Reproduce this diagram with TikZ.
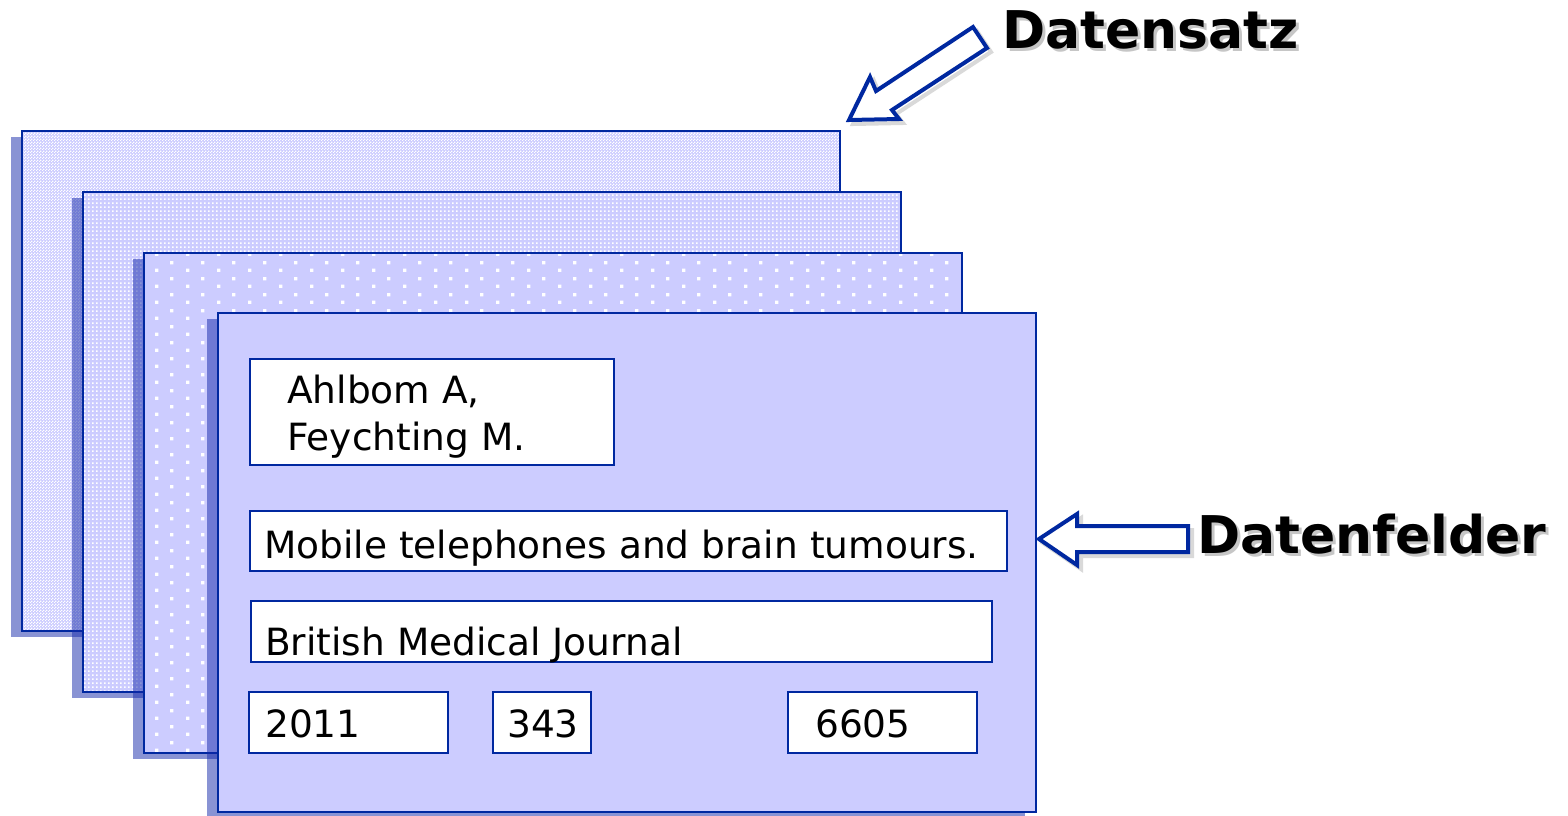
\documentclass[tikz,border=0pt]{standalone}
\usepackage{fontspec}
\setmainfont{DejaVu Sans}
\usetikzlibrary{patterns,positioning}
\definecolor{feldblau}{RGB}{0,40,160}
\definecolor{lavendel}{RGB}{204,204,255}
\definecolor{schattenblau}{RGB}{20,40,170}
% Muster der hinteren Karten
\pgfdeclarepatternformonly{karo}{\pgfqpoint{0pt}{0pt}}{\pgfqpoint{3pt}{3pt}}{\pgfqpoint{3pt}{3pt}}{%
  \pgfpathrectangle{\pgfqpoint{0pt}{0pt}}{\pgfqpoint{1.5pt}{1.5pt}}%
  \pgfpathrectangle{\pgfqpoint{1.5pt}{1.5pt}}{\pgfqpoint{1.5pt}{1.5pt}}%
  \pgfusepath{fill}}
\pgfdeclarepatternformonly{feinpunkte}{\pgfqpoint{0pt}{0pt}}{\pgfqpoint{4pt}{4pt}}{\pgfqpoint{4pt}{4pt}}{%
  \pgfpathrectangle{\pgfqpoint{0pt}{0pt}}{\pgfqpoint{2pt}{2pt}}%
  \pgfusepath{fill}}
\pgfdeclarepatternformonly{grobpunkte}{\pgfqpoint{0pt}{0pt}}{\pgfqpoint{31pt}{16pt}}{\pgfqpoint{31pt}{16pt}}{%
  \pgfpathrectangle{\pgfqpoint{0pt}{0pt}}{\pgfqpoint{3.5pt}{3.5pt}}%
  \pgfpathrectangle{\pgfqpoint{15.5pt}{8pt}}{\pgfqpoint{3.5pt}{3.5pt}}%
  \pgfusepath{fill}}
\newcommand{\satzpfeil}{(849,120) -- (870,77) -- (876,91) -- (973,27) -- (987,48) -- (892,110) -- (899,119) -- cycle}
\newcommand{\feldpfeil}{(1039,539) -- (1077,514) -- (1077,526) -- (1188,526) -- (1188,552) -- (1077,552) -- (1077,565) -- cycle}

\begin{document}
\begin{tikzpicture}[x=1pt, y=-1pt,
    kartenschatten/.style={fill=schattenblau, fill opacity=.5},
    karte/.style={draw=feldblau, line width=2pt},
    feld/.style={draw=feldblau, fill=white, line width=2pt, anchor=north west, inner sep=0pt},
    feldtext/.style={anchor=base west, inner sep=0pt, font=\fontsize{37.5}{46}\selectfont},
    titel/.style={anchor=base west, inner sep=0pt, font=\fontsize{52}{60}\selectfont\bfseries},
    blockpfeil/.style={draw=feldblau, fill=white, line width=4pt, line join=miter},
    pfeilschatten/.style={draw=gray!30, line width=4pt, line join=miter}]
\useasboundingbox (0,0) rectangle (1568,815);

% Hintere Karten
\foreach \x/\y/\muster in {22/131/karo, 83/192/feinpunkte, 144/253/grobpunkte}{
    \fill[kartenschatten] (\x-11,\y+6) rectangle ++(818,500);
    \fill[lavendel] (\x,\y) rectangle ++(818,500);
    \fill[pattern=\muster, pattern color=white] (\x,\y) rectangle ++(818,500);
    \draw[karte] (\x,\y) rectangle ++(818,500);
}

% Vordere Karte
\fill[kartenschatten] (207,319) rectangle ++(818,499);
\fill[lavendel] (218,313) rectangle ++(818,499);
\draw[karte] (218,313) rectangle ++(818,499);

% Datenfelder
\node[feld, minimum width=364pt, minimum height=106pt] (autor) at (249,358) {};
\node[feld, minimum width=757pt, minimum height=60pt] (titel) at (249,510) {};
\node[feld, minimum width=741pt, minimum height=61pt] (journal) at (250,600) {};
\node[feld, minimum width=199pt, minimum height=61pt] (jahr) at (248,691) {};
\node[feld, minimum width=98pt, minimum height=61pt] (band) at (492,691) {};
\node[feld, minimum width=189pt, minimum height=61pt] (seite) at (787,691) {};

% Inhalte
\node[feldtext] (autor-a) at ([xshift=38pt, yshift=-45pt]autor.north west) {Ahlbom A,};
\node[feldtext] (autor-b) at ([yshift=-47pt]autor-a.base west) {Feychting M.};
\node[feldtext] (titel-text) at ([xshift=15pt, yshift=14pt]titel.south west) {Mobile telephones and brain tumours.};
\node[feldtext] (journal-text) at ([xshift=15pt, yshift=8pt]journal.south west) {British Medical Journal};
\node[feldtext] (jahr-text) at ([xshift=17pt, yshift=17pt]jahr.south west) {2011};
\node[feldtext] (band-text) at ([xshift=15pt, yshift=17pt]band.south west) {343};
\node[feldtext] (seite-text) at ([xshift=28pt, yshift=17pt]seite.south west) {6605};

% Pfeile
\begin{scope}[shift={(4,4)}]
    \draw[pfeilschatten] \satzpfeil;
    \draw[pfeilschatten] \feldpfeil;
\end{scope}
\draw[blockpfeil] \satzpfeil;
\draw[blockpfeil] \feldpfeil;

% Beschriftungen
\node[titel, text=gray!45] (satz-schatten) at (1005,51) {Datensatz};
\node[titel] (satz) at (1002,48) {Datensatz};
\node[titel, text=gray!45] (felder-schatten) at (1200,556) {Datenfelder};
\node[titel] (felder) at (1197,553) {Datenfelder};
\end{tikzpicture}
\end{document}
